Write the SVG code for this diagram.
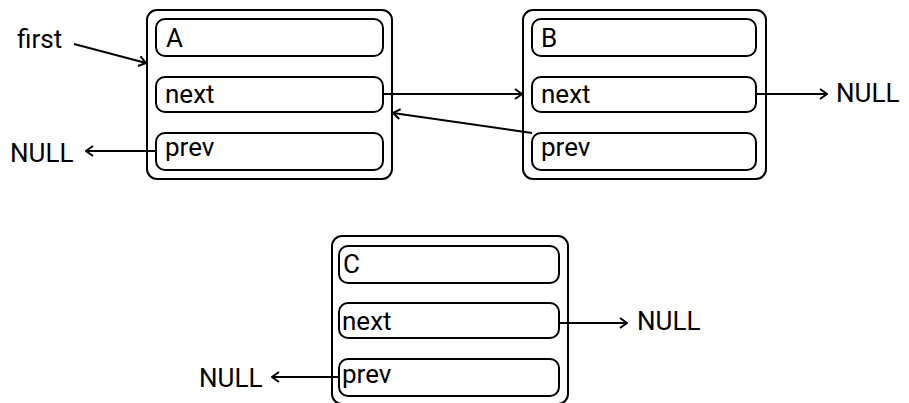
<svg xmlns="http://www.w3.org/2000/svg" width="909" height="403" viewBox="0 0 909 403">
<defs>
<style>
.outer{fill:#fff;stroke:#000;stroke-width:2}
.field{fill:#fff;stroke:#000;stroke-width:2}
.lbl{font-family:Roboto,"Liberation Sans",sans-serif;font-size:26px;fill:#000}
.edge{fill:none;stroke:#000;stroke-width:2}
</style>
<marker id="arr" viewBox="0 0 10 12" refX="9" refY="6" markerWidth="10" markerHeight="12" markerUnits="userSpaceOnUse" orient="auto">
<path d="M2,1 L9,6 L2,11" fill="none" stroke="#000" stroke-width="2"/>
</marker>
</defs>
<rect width="909" height="403" fill="#fff"/>
<g id="nodeA">
<rect class="outer" x="147" y="10" width="245" height="169" rx="10"/>
<rect class="field" x="156" y="19" width="227" height="37" rx="9"/>
<rect class="field" x="156" y="77" width="227" height="35" rx="9"/>
<rect class="field" x="156" y="133" width="227" height="37" rx="9"/>
<text class="lbl" x="166" y="47">A</text>
<text class="lbl" x="165" y="103">next</text>
<text class="lbl" x="165" y="156">prev</text>
</g>
<g id="nodeB">
<rect class="outer" x="523" y="10" width="243" height="169" rx="10"/>
<rect class="field" x="532" y="19" width="224" height="37" rx="9"/>
<rect class="field" x="532" y="77" width="224" height="35" rx="9"/>
<rect class="field" x="532" y="133" width="224" height="37" rx="9"/>
<text class="lbl" x="541" y="47">B</text>
<text class="lbl" x="541" y="103">next</text>
<text class="lbl" x="541" y="156">prev</text>
</g>
<g id="nodeC">
<rect class="outer" x="332" y="236" width="236" height="168" rx="10"/>
<rect class="field" x="339" y="246" width="220" height="37" rx="9"/>
<rect class="field" x="339" y="303" width="220" height="35" rx="9"/>
<rect class="field" x="339" y="359" width="220" height="37" rx="9"/>
<text class="lbl" x="343" y="273">C</text>
<text class="lbl" x="342" y="330">next</text>
<text class="lbl" x="342" y="383">prev</text>
</g>
<g id="labels">
<text class="lbl" x="17" y="48">first</text>
<text class="lbl" x="10" y="162">NULL</text>
<text class="lbl" x="836" y="102">NULL</text>
<text class="lbl" x="637" y="330">NULL</text>
<text class="lbl" x="199" y="387">NULL</text>
</g>
<g id="connectors">
<line class="edge" x1="74" y1="44" x2="146" y2="63" marker-end="url(#arr)"/>
<line class="edge" x1="156" y1="151" x2="86" y2="151" marker-end="url(#arr)"/>
<line class="edge" x1="383" y1="94" x2="522" y2="94" marker-end="url(#arr)"/>
<line class="edge" x1="532" y1="133" x2="393" y2="113" marker-end="url(#arr)"/>
<line class="edge" x1="756" y1="94" x2="827" y2="94" marker-end="url(#arr)"/>
<line class="edge" x1="559" y1="323" x2="627" y2="323" marker-end="url(#arr)"/>
<line class="edge" x1="339" y1="377" x2="272" y2="377" marker-end="url(#arr)"/>
</g>
</svg>
